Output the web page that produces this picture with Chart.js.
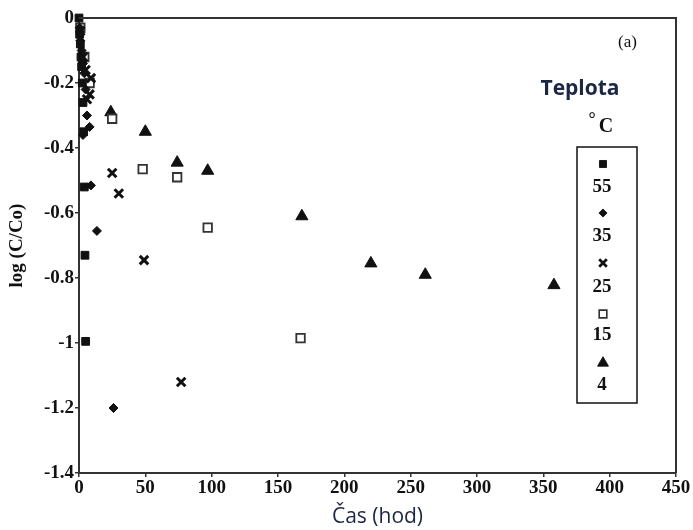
<!DOCTYPE html>
<html>
<head>
  <meta charset="UTF-8">
  <title>log (C/Co) vs Čas</title>
  <script src="https://cdn.jsdelivr.net/npm/chart.js@4.4.1/dist/chart.umd.min.js"></script>
</head>
<style>
  html, body { margin: 0; padding: 0; background: #fff; }
  #wrap { width: 693px; height: 530px; position: relative; }
</style>
<body>
  <div id="wrap"><canvas id="myChart"></canvas></div>

<script type="text/javascript">
  // series data: [time (hod), log(C/Co)]
  var t55 = [0, 0.5, 1, 1.5, 2, 2.5, 3, 3.5, 4, 4.5, 5];
  var v55 = [0, -0.05, -0.08, -0.12, -0.15, -0.2, -0.26, -0.35, -0.52, -0.73, -0.995];

  var t35 = [0.5, 1, 2, 3, 4, 5, 6, 3, 8, 9, 13.5, 26];
  var v35 = [-0.03, -0.07, -0.1, -0.14, -0.17, -0.22, -0.3, -0.36, -0.335, -0.515, -0.655, -1.2];

  var t25 = [1, 3, 5, 9, 6, 8, 25, 30, 49, 77];
  var v25 = [-0.04, -0.12, -0.16, -0.185, -0.25, -0.235, -0.477, -0.54, -0.745, -1.12];

  var t15 = [1, 4, 8, 25, 48, 74, 97, 167];
  var v15 = [-0.03, -0.12, -0.2, -0.31, -0.465, -0.49, -0.645, -0.985];

  var t4 = [24, 50, 74, 97, 168, 220, 261, 358];
  var v4 = [-0.29, -0.35, -0.445, -0.47, -0.61, -0.755, -0.79, -0.822];

  var xTicks = [0, 50, 100, 150, 200, 250, 300, 350, 400, 450];
  var yTicks = [0, -0.2, -0.4, -0.6, -0.8, -1, -1.2, -1.4];
  var seriesLabels = ['55', '35', '25', '15', '4'];

  function pts(t, v) {
    var out = [];
    for (var i = 0; i < t.length; i++) out.push({ x: t[i], y: v[i] });
    return out;
  }

  var serif = '"Liberation Serif", "DejaVu Serif", serif';
  var sans = '"Open Sans", "Liberation Sans", sans-serif';
  var navy = '#1b2745';

  var datasets = [
    { label: seriesLabels[0], data: pts(t55, v55), pointStyle: 'rect', pointRadius: 5.5,
      backgroundColor: '#111', borderColor: '#111', borderWidth: 1, clip: false },
    { label: seriesLabels[1], data: pts(t35, v35), pointStyle: 'rectRot', pointRadius: 4.5,
      backgroundColor: '#111', borderColor: '#111', borderWidth: 1, clip: false },
    { label: seriesLabels[2], data: pts(t25, v25), pointStyle: 'crossRot', pointRadius: 6,
      backgroundColor: '#111', borderColor: '#111', borderWidth: 3, clip: false },
    { label: seriesLabels[3], data: pts(t15, v15), pointStyle: 'rect', pointRadius: 6,
      backgroundColor: '#fff', borderColor: '#333', borderWidth: 1.8, clip: false },
    { label: seriesLabels[4], data: pts(t4, v4), pointStyle: 'triangle', pointRadius: 7,
      backgroundColor: '#111', borderColor: '#111', borderWidth: 1, clip: false }
  ];

  // frame, legend box and loose texts
  var extras = {
    id: 'extras',
    afterDraw: function (chart) {
      var ctx = chart.ctx, a = chart.chartArea;
      ctx.save();
      ctx.strokeStyle = '#333';
      ctx.lineWidth = 2;
      ctx.beginPath();
      ctx.moveTo(a.left, a.top); ctx.lineTo(a.right, a.top); ctx.lineTo(a.right, a.bottom);
      ctx.stroke();

      ctx.fillStyle = '#111';
      ctx.font = '17px ' + serif;
      ctx.textAlign = 'left';
      ctx.textBaseline = 'middle';
      ctx.fillText('(a)', 618, 43);

      ctx.fillStyle = navy;
      ctx.font = 'bold 21px ' + sans;
      ctx.textAlign = 'center';
      ctx.fillText('Teplota', 580, 89);

      ctx.fillStyle = '#111';
      ctx.font = 'bold 20px ' + serif;
      ctx.fillText('C', 606, 127);
      ctx.font = 'bold 18px ' + serif;
      ctx.fillText('°', 592, 120);

      // legend box
      ctx.strokeStyle = '#111';
      ctx.lineWidth = 1.5;
      ctx.strokeRect(577, 147, 60, 256);
      var my = [164, 213, 263, 314, 363];
      var ly = [187, 236, 287, 335, 385];
      chart.data.datasets.forEach(function (ds, i) {
        ctx.fillStyle = ds.backgroundColor;
        ctx.strokeStyle = ds.borderColor;
        ctx.lineWidth = ds.borderWidth * 0.9;
        Chart.helpers.drawPoint(ctx, {
          pointStyle: ds.pointStyle,
          radius: ds.pointRadius * 0.9,
          rotation: 0,
          borderWidth: ds.borderWidth
        }, 603, my[i]);
        ctx.fillStyle = '#111';
        ctx.font = 'bold 19px ' + serif;
        ctx.fillText(ds.label, 602, ly[i]);
      });
      ctx.restore();
    }
  };

  var ctx = document.getElementById('myChart');
  ctx.width = 693; ctx.height = 530;

  var myChart = new Chart(ctx, {
    type: 'scatter',
    data: { datasets: datasets },
    options: {
      responsive: false,
      animation: false,
      layout: { padding: { left: 0, top: 18, right: 17, bottom: 0 } },
      plugins: { legend: { display: false }, tooltip: { enabled: false } },
      scales: {
        x: {
          type: 'linear', min: 0, max: 450,
          afterBuildTicks: function (s) { s.ticks = xTicks.map(function (v) { return { value: v }; }); },
          afterFit: function (s) { s.height = 57; },
          grid: { display: true, drawOnChartArea: false, drawTicks: true, tickLength: 4, color: '#333', lineWidth: 1.5 },
          border: { display: true, color: '#333', width: 2 },
          ticks: { color: '#111', font: { family: serif, size: 19, weight: 'bold' }, padding: 0, maxRotation: 0,
            callback: function (v) { return String(v); } },
          title: { display: true, text: 'Čas (hod)', color: navy,
            font: { family: sans, size: 21 }, padding: { top: 0, bottom: 0 } }
        },
        y: {
          type: 'linear', min: -1.4, max: 0,
          afterBuildTicks: function (s) { s.ticks = yTicks.map(function (v) { return { value: v }; }); },
          afterFit: function (s) { s.width = 79; },
          grid: { display: true, drawOnChartArea: false, drawTicks: true, tickLength: 4, color: '#333', lineWidth: 1.5 },
          border: { display: true, color: '#333', width: 2 },
          ticks: { color: '#111', font: { family: serif, size: 19, weight: 'bold' }, padding: 1,
            callback: function (v) { return String(v); } },
          title: { display: true, text: 'log (C/Co)', color: '#111',
            font: { family: serif, size: 19, weight: 'bold' }, padding: { top: 6, bottom: 0 } }
        }
      }
    },
    plugins: [extras]
  });
</script>
</body>
</html>
